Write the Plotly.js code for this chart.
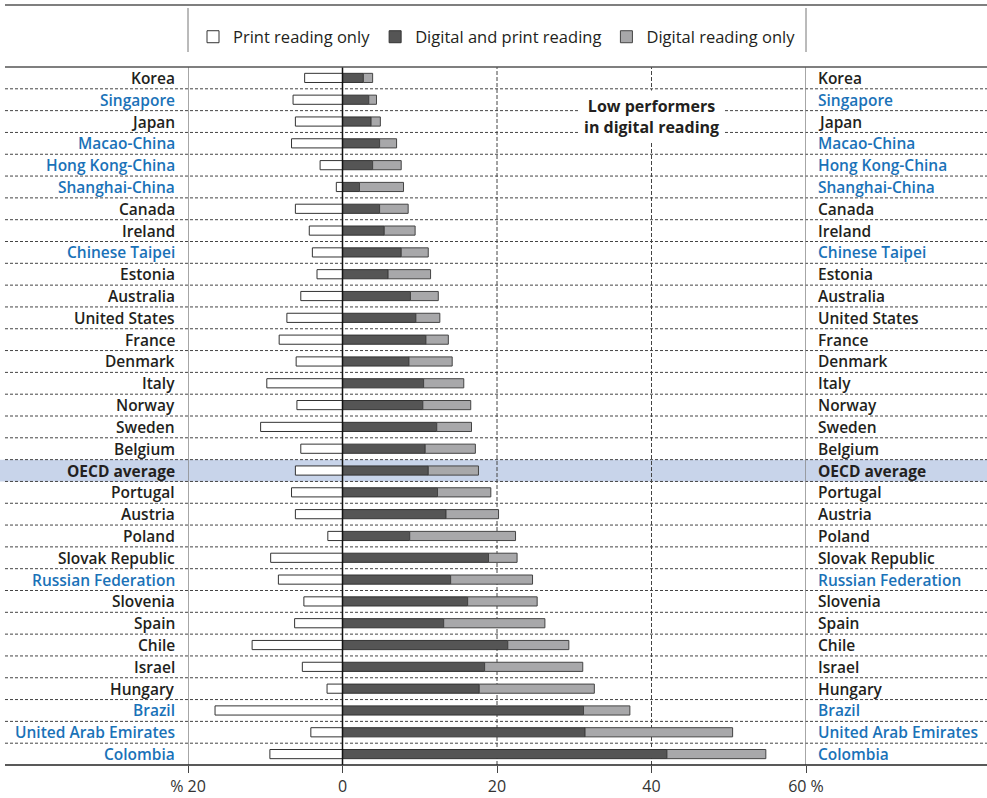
<!DOCTYPE html>
<html>
<head>
<meta charset="utf-8">
<script src="https://cdn.plot.ly/plotly-3.0.1.min.js"></script>
<style>html,body{margin:0;padding:0;background:#fff;}#chart{width:987px;height:798px;}</style>
</head>
<body>
<div id="chart"></div>
<script>
const categories = ["Korea","Singapore","Japan","Macao-China","Hong Kong-China","Shanghai-China","Canada","Ireland","Chinese Taipei","Estonia","Australia","United States","France","Denmark","Italy","Norway","Sweden","Belgium","OECD average","Portugal","Austria","Poland","Slovak Republic","Russian Federation","Slovenia","Spain","Chile","Israel","Hungary","Brazil","United Arab Emirates","Colombia"];
const partners = ["Singapore","Macao-China","Hong Kong-China","Shanghai-China","Chinese Taipei","Russian Federation","Brazil","United Arab Emirates","Colombia"];
const printOnly = [4.9,6.4,6.1,6.6,2.9,0.8,6.1,4.3,3.9,3.3,5.4,7.2,8.2,6.0,9.8,5.9,10.6,5.4,6.1,6.6,6.1,1.9,9.3,8.3,5.0,6.2,11.7,5.2,2.0,16.5,4.1,9.4];
const digitalAndPrint = [2.7,3.4,3.7,4.8,3.9,2.2,4.8,5.4,7.6,5.9,8.8,9.5,10.8,8.6,10.5,10.4,12.2,10.7,11.1,12.3,13.4,8.7,18.9,14.0,16.2,13.1,21.4,18.4,17.7,31.2,31.4,42.0];
const digitalOnly = [1.2,1.0,1.2,2.2,3.7,5.7,3.7,4.0,3.5,5.5,3.6,3.1,2.9,5.6,5.2,6.2,4.5,6.5,6.5,6.9,6.8,13.7,3.7,10.6,9.0,13.1,7.9,12.7,14.9,6.0,19.1,12.8];
const tickVals = [-20,0,20,40,60];
const tickText = ["% 20","0","20","40","60 %"];

const W = 987, L = 188, R = 806, T = 67, B = 765;
const px = p => (p - L) / (R - L);
const py = p => (B - p) / (B - T);
const FONT = 'Open Sans, sans-serif';

const traces = [
  {type:'bar', orientation:'h', name:'Print reading only', y:categories, x:printOnly.map(v=>-v),
   marker:{color:'#ffffff', line:{color:'#333333', width:1}}, width:0.42, hoverinfo:'skip'},
  {type:'bar', orientation:'h', name:'Digital and print reading', y:categories, x:digitalAndPrint,
   marker:{color:'#555555', line:{color:'#333333', width:1}}, width:0.42, hoverinfo:'skip'},
  {type:'bar', orientation:'h', name:'Digital reading only', y:categories, x:digitalOnly,
   marker:{color:'#a8a8aa', line:{color:'#444444', width:1}}, width:0.42, hoverinfo:'skip'}
];

const shapes = [];
const oi = categories.indexOf("OECD average");
shapes.push({type:'rect', xref:'paper', yref:'y', x0:px(0), x1:px(W), y0:oi-0.5, y1:oi+0.5,
  fillcolor:'#c8d4ea', line:{width:0}, layer:'below'});
for (let i = 0; i < categories.length - 1; i++) {
  shapes.push({type:'line', xref:'paper', yref:'y', x0:px(5), x1:px(W), y0:i+0.5, y1:i+0.5,
    line:{color:'#444444', width:1, dash:'3px,2px'}, layer:'below'});
}
[20,40].forEach(v => shapes.push({type:'line', xref:'x', yref:'paper', x0:v, x1:v, y0:0, y1:1,
  line:{color:'#444444', width:1, dash:'4px,2px'}, layer:'below'}));
[-20,60].forEach(v => shapes.push({type:'line', xref:'x', yref:'paper', x0:v, x1:v, y0:0, y1:1,
  line:{color:'#888888', width:1.5}, layer:'above'}));
shapes.push({type:'line', xref:'x', yref:'paper', x0:0, x1:0, y0:0, y1:1, line:{color:'#111111', width:1.5}, layer:'above'});
// frame lines
shapes.push({type:'line', xref:'paper', yref:'paper', x0:px(5), x1:px(W), y0:py(5), y1:py(5), line:{color:'#555555', width:1.5}});
shapes.push({type:'line', xref:'paper', yref:'paper', x0:px(5), x1:px(W), y0:1, y1:1, line:{color:'#555555', width:1.5}});
shapes.push({type:'line', xref:'paper', yref:'paper', x0:px(5), x1:px(W), y0:0, y1:0, line:{color:'#222222', width:1.5}});
[L,R].forEach(p => shapes.push({type:'line', xref:'paper', yref:'paper', x0:px(p), x1:px(p), y0:py(52), y1:py(8), line:{color:'#777777', width:1}}));

const annotations = [];
categories.forEach((c,i) => {
  const isPartner = partners.includes(c);
  const isOECD = c === "OECD average";
  const col = isPartner ? '#1a72b8' : '#231f20';
  const f = {family:FONT, size:15.5, color:col, weight: isOECD ? 700 : 600};
  annotations.push({xref:'paper', yref:'y', x:px(177), y:c, text:c, showarrow:false, xanchor:'right', yanchor:'middle', font:f});
  annotations.push({xref:'paper', yref:'y', x:px(816), y:c, text:c, showarrow:false, xanchor:'left', yanchor:'middle', font:f});
});
annotations.push({xref:'x', yref:'y', x:40, y:1.75, text:'<b>Low performers<br>in digital reading</b>', showarrow:false,
  xanchor:'center', yanchor:'middle', bgcolor:'#ffffff', borderpad:4,
  font:{family:FONT, size:16, color:'#231f20'}});

const layout = {
  width:W, height:798,
  margin:{l:L, r:W-R, t:T, b:798-B},
  paper_bgcolor:'#ffffff', plot_bgcolor:'rgba(0,0,0,0)',
  barmode:'relative', bargap:0.5,
  showlegend:true,
  legend:{orientation:'h', x:0.5, xanchor:'center', y:py(37), yanchor:'middle',
    font:{family:FONT, size:16.5, color:'#231f20'}, bgcolor:'rgba(0,0,0,0)', itemclick:false, traceorder:'normal'},
  xaxis:{range:[-20,60], tickvals:tickVals, ticktext:tickText, ticks:'outside', ticklen:7, tickcolor:'#444444',
    showgrid:false, zeroline:false, showline:false, fixedrange:true,
    tickfont:{family:FONT, size:16, color:'#333333'}},
  yaxis:{type:'category', categoryorder:'array', categoryarray:categories, autorange:false, range:[categories.length-0.5,-0.5],
    showticklabels:false, showgrid:false, zeroline:false, ticks:'', fixedrange:true},
  shapes:shapes, annotations:annotations
};
Plotly.newPlot('chart', traces, layout, {displayModeBar:false, staticPlot:true});
</script>
</body>
</html>
